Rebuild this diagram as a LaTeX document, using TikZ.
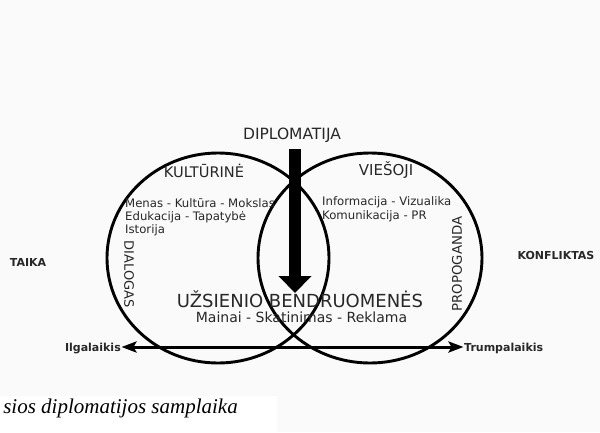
\documentclass[tikz,border=0pt]{standalone}
\usepackage{fontspec}
\setmainfont{DejaVu Sans}
\newfontfamily\capfont{Liberation Serif}
\usetikzlibrary{arrows.meta}
\definecolor{bggray}{RGB}{250,250,250}
\definecolor{txt}{RGB}{40,40,40}
\tikzset{
  lbl/.style={inner sep=0pt, text=txt},
  small/.style={lbl, font=\fs{11.7}, anchor=base west},
  ring/.style={draw=black, line width=2.9bp},
}
\newcommand{\fs}[1]{\fontsize{#1bp}{#1bp}\selectfont}
\begin{document}
\begin{tikzpicture}[x=1bp,y=1bp]
\useasboundingbox (0,0) rectangle (600,432);
\fill[bggray] (0,0) rectangle (600,432);
\fill[white] (0,0) rectangle (277,36);

% circles
\draw[ring] (218,174) ellipse [x radius=111, y radius=105];
\draw[ring] (370,174) ellipse [x radius=112, y radius=105];

% titles
\node[lbl, font=\fs{15.5}, anchor=base] (dip) at (292,293) {DIPLOMATIJA};
\node[lbl, font=\fs{14.6}, anchor=base] (kul) at (204,255) {KULTŪRINĖ};
\node[lbl, font=\fs{15}, anchor=base] (vie) at (386,256.5) {VIEŠOJI};

\node[small] (kt1) at (125,224.7) {Menas - Kultūra - Mokslas};
\node[small] (kt2) at (125,211.4) {Edukacija - Tapatybė};
\node[small] (kt3) at (125,198.4) {Istorija};
\node[small] (vt1) at (322,226.3) {Informacija - Vizualika};
\node[small] (vt2) at (322,213) {Komunikacija - PR};

\node[lbl, font=\fs{13}, rotate=-90] (dia) at (129,158) {DIALOGAS};
\node[lbl, font=\fs{13.3}, rotate=90] (pro) at (457,168) {PROPOGANDA};

\node[lbl, font=\fs{18}, anchor=base] (uzs) at (300,124.3) {UŽSIENIO BENDRUOMENĖS};
\node[lbl, font=\fs{14}, anchor=base] (mai) at (301.5,109.3) {Mainai - Skatinimas - Reklama};

\node[lbl, font=\bfseries\fs{11}, anchor=base] (tai) at (28,165.3) {TAIKA};
\node[lbl, font=\bfseries\fs{11}, anchor=base] (kon) at (556,173) {KONFLIKTAS};

\node[lbl, font=\bfseries\fs{11}, anchor=east, inner sep=0.5bp, text height=8bp, text depth=0pt] (ilg) at (121.5,85) {Ilgalaikis};
\node[lbl, font=\bfseries\fs{11}, anchor=west, inner sep=0.5bp, text height=8bp, text depth=0pt] (tru) at (463.5,85) {Trumpalaikis};

% vertical arrow
\coordinate (dtop) at (295,283);
\coordinate (dtip) at (295,139);
\draw[line width=12bp, -{Triangle[width=32bp, length=17bp]}] (dtop) -- (dtip);

% horizontal arrow
\draw[line width=3bp, {Stealth[width=11bp, length=15bp, inset=3bp]}-{Stealth[width=11bp, length=15bp, inset=3bp]}] (ilg.east) -- (tru.west);

% caption
\node[inner sep=0pt, anchor=base east, font=\capfont\itshape\fs{21}] (cap) at (238,19) {sios diplomatijos samplaika};
\end{tikzpicture}
\end{document}
